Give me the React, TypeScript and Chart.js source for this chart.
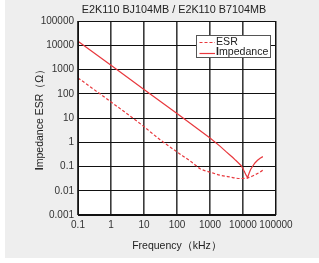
import React, { useEffect, useRef } from 'react';
import { Chart, registerables } from 'chart.js';

Chart.register(...registerables);

const chartTitle = 'E2K110 BJ104MB / E2K110 B7104MB';
const xAxisTitle = 'Frequency（kHz）';
const yAxisTitle = 'Impedance ESR（Ω）';
const esrLabel = 'ESR';
const impLabel = 'Impedance';

const xTicks = [0.1, 1, 10, 100, 1000, 10000, 100000];
const xTickLabels = ['0.1', '1', '10', '100', '1000', '10000', '100000'];
const yTicks = [0.001, 0.01, 0.1, 1, 10, 100, 1000, 10000, 100000];
const yTickLabels = ['0.001', '0.01', '0.1', '1', '10', '100', '1000', '10000', '100000'];

const impFreq = [0.1, 1, 10, 100, 1000, 2000, 3000, 4000, 5000, 6000, 7300, 8700, 10000, 10900, 12300, 13800, 15500, 17000, 19400, 23000, 27600, 33000, 40000];
const impValues = [14500, 1500, 150, 15.2, 1.5, 0.69, 0.42, 0.3, 0.23, 0.18, 0.14, 0.11, 0.083, 0.063, 0.045, 0.035, 0.055, 0.075, 0.1, 0.14, 0.18, 0.22, 0.255];

const esrFreq = [0.1, 1, 10, 30, 100, 300, 500, 1000, 2000, 4000, 8000, 14000, 22000, 30000, 40000];
const esrValues = [450, 46, 4.4, 1.3, 0.4, 0.14, 0.081, 0.059, 0.044, 0.037, 0.032, 0.034, 0.044, 0.055, 0.07];

const RED = '#e8383d';
const FONT = '"Liberation Sans", Arial, sans-serif';

const decorPlugin = {
  id: 'decor',
  beforeDraw(chart: any) {
    const { ctx, chartArea } = chart;
    ctx.save();
    ctx.fillStyle = '#ffffff';
    ctx.fillRect(chartArea.left, chartArea.top, chartArea.right - chartArea.left, chartArea.bottom - chartArea.top);
    ctx.restore();
  },
  afterDraw(chart: any) {
    const { ctx, chartArea } = chart;
    const cx = (chartArea.left + chartArea.right) / 2;
    ctx.save();
    // frame
    ctx.strokeStyle = '#111';
    ctx.lineWidth = 1;
    ctx.strokeRect(Math.round(chartArea.left) + 0.5, Math.round(chartArea.top) + 0.5,
      Math.round(chartArea.right - chartArea.left) - 1, Math.round(chartArea.bottom - chartArea.top) - 1);
    // title
    ctx.fillStyle = '#222';
    ctx.font = `10.8px ${FONT}`;
    ctx.textAlign = 'center';
    ctx.textBaseline = 'middle';
    ctx.fillText(chartTitle, 174, 10.5);
    // x title
    ctx.font = `10.5px ${FONT}`;
    ctx.fillText(xAxisTitle, cx, 246);
    // y title with bold first letter
    ctx.save();
    ctx.translate(40, 117);
    ctx.rotate(-Math.PI / 2);
    ctx.textAlign = 'left';
    const first = yAxisTitle.slice(0, 1);
    const rest = yAxisTitle.slice(1);
    ctx.font = `bold 10.5px ${FONT}`;
    const w1 = ctx.measureText(first).width;
    ctx.font = `10.5px ${FONT}`;
    const w2 = ctx.measureText(rest).width;
    const x0 = -(w1 + w2) / 2;
    ctx.font = `bold 10.5px ${FONT}`;
    ctx.fillText(first, x0, 0);
    ctx.font = `10.5px ${FONT}`;
    ctx.fillText(rest, x0 + w1, 0);
    ctx.restore();
    // legend
    ctx.fillStyle = '#ffffff';
    ctx.fillRect(197, 35, 74, 22);
    ctx.strokeStyle = '#555';
    ctx.lineWidth = 1;
    ctx.strokeRect(196.5, 35.5, 74, 22);
    ctx.strokeStyle = RED;
    ctx.lineWidth = 1.2;
    ctx.setLineDash([3, 2]);
    ctx.beginPath();
    ctx.moveTo(199.5, 42.5);
    ctx.lineTo(215, 42.5);
    ctx.stroke();
    ctx.setLineDash([]);
    ctx.beginPath();
    ctx.moveTo(199.5, 53.5);
    ctx.lineTo(215, 53.5);
    ctx.stroke();
    ctx.fillStyle = '#222';
    ctx.textAlign = 'left';
    ctx.textBaseline = 'middle';
    ctx.font = `10.6px ${FONT}`;
    ctx.fillText(esrLabel, 216, 42.5);
    ctx.font = `bold 10.6px ${FONT}`;
    const f = impLabel.slice(0, 1);
    const fw = ctx.measureText(f).width;
    ctx.fillText(f, 216, 52.5);
    ctx.font = `10.6px ${FONT}`;
    ctx.fillText(impLabel.slice(1), 216 + fw, 52.5);
    ctx.restore();
  },
};

export default function App() {
  const ref = useRef<HTMLCanvasElement | null>(null);
  useEffect(() => {
    if (!ref.current) return;
    const chart = new Chart(ref.current, {
      type: 'line',
      data: {
        datasets: [
          {
            label: esrLabel,
            data: esrFreq.map((f, i) => ({ x: f, y: esrValues[i] })),
            borderColor: RED,
            borderWidth: 1.2,
            borderDash: [3, 2],
            pointRadius: 0,
            cubicInterpolationMode: 'monotone',
            fill: false,
          },
          {
            label: impLabel,
            data: impFreq.map((f, i) => ({ x: f, y: impValues[i] })),
            borderColor: RED,
            borderWidth: 1.2,
            pointRadius: 0,
            tension: 0,
            fill: false,
          },
        ],
      },
      options: {
        responsive: false,
        animation: false,
        layout: { padding: { left: 0, top: 21, right: 43, bottom: 0 } },
        plugins: {
          legend: { display: false },
          title: { display: false },
          tooltip: { enabled: false },
        },
        scales: {
          x: {
            type: 'logarithmic',
            min: 0.1,
            max: 100000,
            afterBuildTicks: (axis: any) => {
              axis.ticks = xTicks.map((v) => ({ value: v }));
            },
            afterFit: (axis: any) => {
              axis.height = 48;
            },
            grid: { color: '#3a3a3a', lineWidth: 1.6, drawTicks: false },
            border: { display: false },
            ticks: {
              autoSkip: false,
              maxRotation: 0,
              padding: 4,
              color: '#333',
              font: { family: FONT, size: 10 },
              callback: (_v: any, i: number) => xTickLabels[i],
            },
          },
          y: {
            type: 'logarithmic',
            min: 0.001,
            max: 100000,
            afterBuildTicks: (axis: any) => {
              axis.ticks = yTicks.map((v) => ({ value: v }));
            },
            afterFit: (axis: any) => {
              axis.width = 78;
            },
            grid: { color: '#111', lineWidth: 1, drawTicks: false },
            border: { display: false },
            ticks: {
              autoSkip: false,
              padding: 4,
              color: '#333',
              font: { family: FONT, size: 10 },
              callback: (_v: any, i: number) => yTickLabels[i],
            },
          },
        },
      } as any,
      plugins: [decorPlugin],
    });
    return () => chart.destroy();
  }, []);

  return (
    <div style={{ position: 'absolute', left: 0, top: 0, width: 319, height: 263, background: '#ffffff' }}>
      <div style={{ position: 'absolute', left: 5, top: 0, width: 314, height: 258, background: '#eeeeee' }} />
      <canvas ref={ref} width={319} height={263} style={{ position: 'absolute', left: 0, top: 0, width: 319, height: 263 }} />
    </div>
  );
}
